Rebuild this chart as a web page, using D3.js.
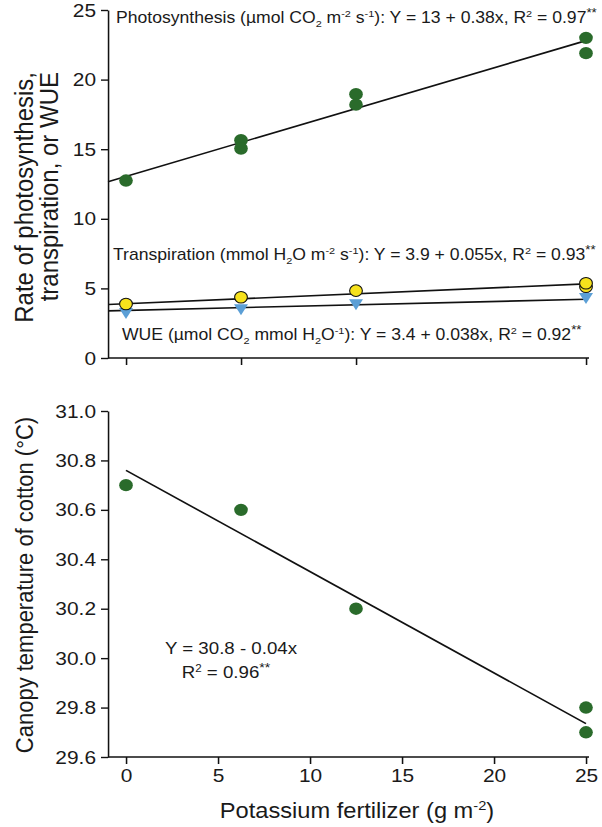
<!DOCTYPE html>
<html><head><meta charset="utf-8">
<script src="https://cdn.jsdelivr.net/npm/d3@7"></script>
<style>
body{margin:0;background:#fff;}
text{font-family:"Liberation Sans",Arial,sans-serif;fill:#1a1a1a;}
</style></head>
<body><svg id="c" width="602" height="827"></svg>
<script>
// ---- data ----
const xLevels = [0, 6.25, 12.5, 25];
const photoX = [0, 6.25, 6.25, 12.5, 12.5, 25, 25];
const photoY = [12.75, 15.65, 15.05, 18.95, 18.2, 23.0, 21.9];
const transX = [0, 6.25, 12.5, 25, 25];
const transY = [3.88, 4.36, 4.84, 5.12, 5.37];
const wueX = [0, 6.25, 12.5, 25];
const wueY = [3.33, 3.6, 3.95, 4.4];
const photoFit = [13.05, 0.39];
const transFit = [3.9, 0.057];
const wueFit = [3.42, 0.032];
const topTicks = [0, 5, 10, 15, 20, 25];
const tempX = [0, 6.25, 12.5, 25, 25];
const tempY = [30.7, 30.6, 30.2, 29.8, 29.7];
const tempFit = [30.76, -0.041];
const bottomYTicks = [29.6, 29.8, 30.0, 30.2, 30.4, 30.6, 30.8, 31.0];
const bottomXTicks = [0, 5, 10, 15, 20, 25];

const SX = 1.1; // the reference figure is stretched horizontally
const P = v => v / SX; // page x -> group x
const svg = d3.select("#c");
const root = svg.append("g").attr("transform", `scale(${SX},1)`);
const green = "#2a6b2b", yellow = "#f7e21c", blue = "#5b9fd6";

const x = d3.scaleLinear().domain([0, 25]).range([P(126), P(586)]);
const xMin = x.invert(P(108));

function rich(g, px, py, segs, size, anchor) {
  const t = g.append("text").attr("x", px).attr("y", py).attr("font-size", size)
    .attr("text-anchor", anchor || "start");
  let cur = 0;
  segs.forEach(([s, m]) => {
    let target = m === "sup" ? -size * 0.38 : m === "sub" ? size * 0.25 : 0;
    const fs = m ? size * (s === "**" ? 0.75 : 0.62) : size;
    t.append("tspan").attr("dy", target - cur).attr("font-size", fs).text(s);
    cur = target;
  });
  return t;
}
function styleAxis(a, fs) {
  a.select(".domain").attr("stroke", "#111").attr("stroke-width", 1.4);
  a.selectAll(".tick line").attr("stroke", "#111").attr("stroke-width", 1.4);
  a.selectAll("text").attr("font-size", fs).attr("font-family", "Liberation Sans, Arial").attr("fill", "#1a1a1a");
}
function fitLine(g, fit, ys, x0, x1) {
  g.append("line").attr("x1", x(x0)).attr("y1", ys(fit[0] + fit[1] * x0))
    .attr("x2", x(x1)).attr("y2", ys(fit[0] + fit[1] * x1))
    .attr("stroke", "#111").attr("stroke-width", 1.6);
}

// ---------- top panel ----------
const yT = d3.scaleLinear().domain([0, 25]).range([358, 10]);
const gT = root.append("g");
gT.append("g").attr("transform", `translate(${P(108)},0)`)
  .call(d3.axisLeft(yT).tickValues(topTicks).tickSize(P(7)).tickPadding(P(5)).tickSizeOuter(0).tickFormat(d3.format("d")))
  .call(a => styleAxis(a, 19));
gT.append("g").attr("transform", "translate(0,358)")
  .call(d3.axisBottom(x).tickValues(xLevels).tickSize(7).tickSizeOuter(0).tickFormat(""))
  .call(a => { styleAxis(a, 19); a.select(".domain").attr("d", `M${P(108)},0H${P(589)}`); });

fitLine(gT, photoFit, yT, xMin, 25);
fitLine(gT, transFit, yT, xMin, 25);
fitLine(gT, wueFit, yT, xMin, 25);

gT.selectAll(".ph").data(photoX).join("circle").attr("cx", d => x(d))
  .attr("cy", (d, i) => yT(photoY[i])).attr("r", 6.2).attr("fill", green);
const tri = d3.symbol().type(d3.symbolTriangle).size(70);
gT.selectAll(".wu").data(wueX).join("path")
  .attr("d", tri).attr("transform", (d, i) => `translate(${x(d)},${yT(wueY[i])}) rotate(180)`)
  .attr("fill", blue);
gT.selectAll(".tr").data(transX).join("circle").attr("cx", d => x(d))
  .attr("cy", (d, i) => yT(transY[i])).attr("r", 5.8).attr("fill", yellow)
  .attr("stroke", "#111").attr("stroke-width", 1);

rich(gT, P(116), 23, [["Photosynthesis (µmol CO"], ["2", "sub"], [" m"], ["-2", "sup"], [" s"], ["-1", "sup"], ["): Y = 13 + 0.38x, R"], ["2", "sup"], [" = 0.97"], ["**", "sup"]], 16);
rich(gT, P(113), 260, [["Transpiration (mmol H"], ["2", "sub"], ["O m"], ["-2", "sup"], [" s"], ["-1", "sup"], ["): Y = 3.9 + 0.055x, R"], ["2", "sup"], [" = 0.93"], ["**", "sup"]], 16);
rich(gT, P(122), 340, [["WUE (µmol CO"], ["2", "sub"], [" mmol H"], ["2", "sub"], ["O"], ["-1", "sup"], ["): Y = 3.4 + 0.038x, R"], ["2", "sup"], [" = 0.92"], ["**", "sup"]], 16);

gT.append("text").attr("transform", `translate(${P(33)},72) rotate(-90)`).attr("text-anchor", "end")
  .attr("font-size", 24).text("Rate of photosynthesis,");
gT.append("text").attr("transform", `translate(${P(58)},72) rotate(-90)`).attr("text-anchor", "end")
  .attr("font-size", 24).text("transpiration, or WUE");

// ---------- bottom panel ----------
const yB = d3.scaleLinear().domain([29.6, 31.0]).range([757, 411]);
const gB = root.append("g");
gB.append("g").attr("transform", `translate(${P(108)},0)`)
  .call(d3.axisLeft(yB).tickValues(bottomYTicks).tickSize(P(7)).tickPadding(P(5)).tickSizeOuter(0).tickFormat(d3.format(".1f")))
  .call(a => styleAxis(a, 19));
gB.append("g").attr("transform", "translate(0,757)")
  .call(d3.axisBottom(x).tickValues(bottomXTicks).tickSize(7).tickPadding(5).tickSizeOuter(0).tickFormat(d3.format("d")))
  .call(a => { styleAxis(a, 19); a.select(".domain").attr("d", `M${P(108)},0H${P(589)}`); });

fitLine(gB, tempFit, yB, 0, 25);
gB.selectAll(".tp").data(tempX).join("circle").attr("cx", d => x(d))
  .attr("cy", (d, i) => yB(tempY[i])).attr("r", 6.2).attr("fill", green);

gB.append("text").attr("x", P(231)).attr("y", 654).attr("text-anchor", "middle").attr("font-size", 17)
  .text("Y = 30.8 - 0.04x");
rich(gB, P(226), 678, [["R"], ["2", "sup"], [" = 0.96"], ["**", "sup"]], 17, "middle");

gB.append("text").attr("transform", `translate(${P(33)},585) rotate(-90)`).attr("text-anchor", "middle")
  .attr("font-size", 22).text("Canopy temperature of cotton (°C)");
rich(gB, P(357), 818, [["Potassium fertilizer (g m"], ["-2", "sup"], [")"]], 21.5, "middle");
</script></body></html>
